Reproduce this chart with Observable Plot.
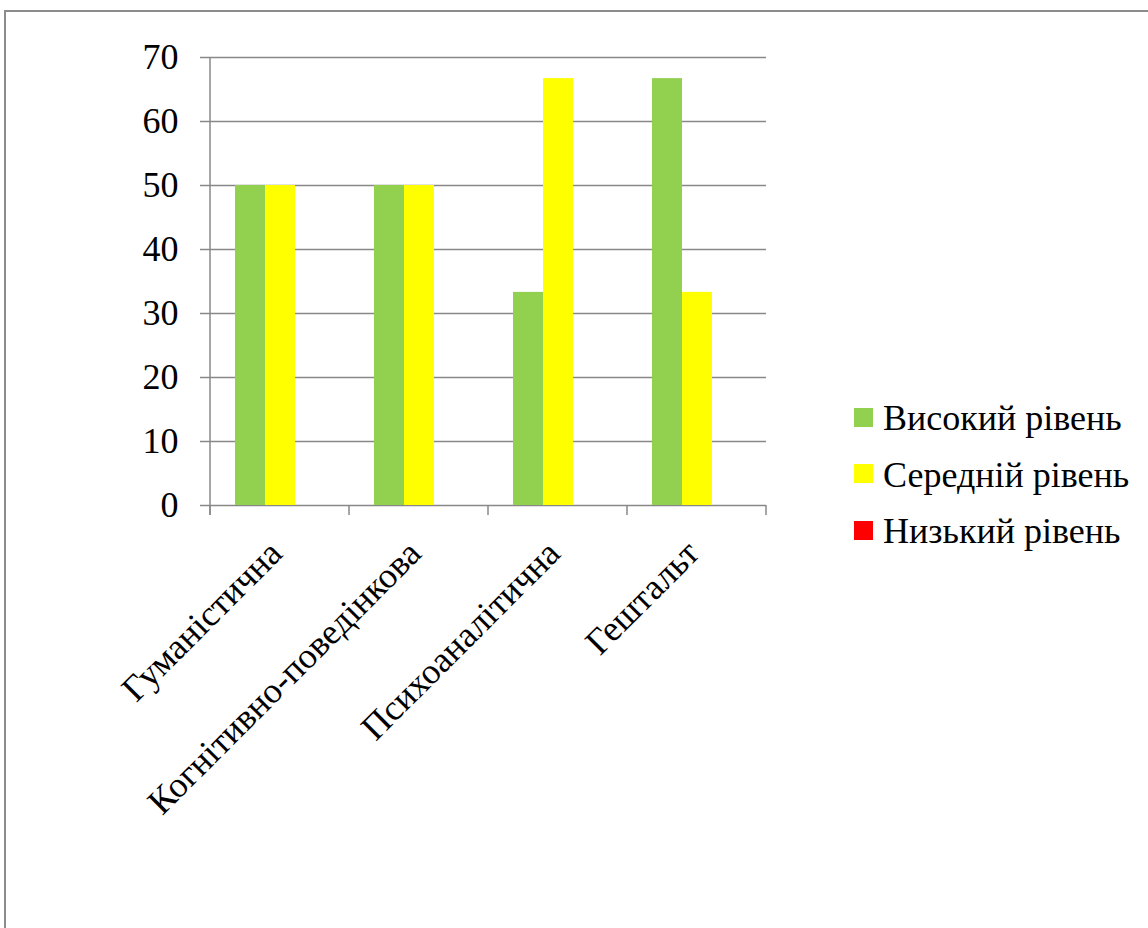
<!DOCTYPE html>
<html>
<head>
<meta charset="utf-8">
<script src="https://cdn.jsdelivr.net/npm/d3@7"></script>
<script src="https://cdn.jsdelivr.net/npm/@observablehq/plot@0.6"></script>
<style>
  html, body { margin: 0; padding: 0; background: #fff; overflow: hidden; width: 1148px; height: 928px; }
  #frame { position: absolute; left: 4px; top: 10px; width: 1400px; height: 1200px; border: 2px solid #8c8c8c; box-sizing: border-box; }
  #chart { position: absolute; left: 0; top: 0; }
  #legend { position: absolute; left: 854px; top: 390px; font-family: "Liberation Serif", "Times New Roman", serif; font-size: 36px; color: #000; white-space: nowrap; }
  .item { display: flex; align-items: center; height: 56.5px; }
  .sw { width: 19px; height: 19px; margin-right: 10px; margin-top: -2px; }
</style>
</head>
<body>
<div id="frame"></div>
<div id="chart"></div>
<div id="legend"></div>
<script>
const categories = ["Гуманістична", "Когнітивно-поведінкова", "Психоаналітична", "Гештальт"];
const seriesNames = ["Високий рівень", "Середній рівень", "Низький рівень"];
const seriesColors = ["#92D050", "#FFFF00", "#FF0000"];
const highValues = [50, 50, 33.3, 66.7];
const mediumValues = [50, 50, 66.7, 33.3];
const lowValues = [0, 0, 0, 0];
const yTicks = [0, 10, 20, 30, 40, 50, 60, 70];

const valuesBySeries = [highValues, mediumValues, lowValues];
const data = [];
categories.forEach((c, i) => {
  seriesNames.forEach((s, j) => data.push({cat: c, series: s, value: valuesBySeries[j][i]}));
});

const font = '"Liberation Serif", "Times New Roman", serif';
const W = 1148, H = 928;
const mL = 209, mR = 381, mT = 57, mB = 423;

const plot = Plot.plot({
  width: W,
  height: H,
  marginLeft: mL,
  marginRight: mR,
  marginTop: mT,
  marginBottom: mB,
  style: {fontFamily: font, background: "transparent", overflow: "visible"},
  fx: {domain: categories, paddingInner: 0, paddingOuter: 0, label: null},
  x: {domain: seriesNames, paddingInner: 0, paddingOuter: 0.75, axis: null},
  y: {domain: [0, 70], label: null},
  color: {domain: seriesNames, range: seriesColors},
  marks: [
    Plot.gridY(yTicks, {stroke: "#888", strokeOpacity: 1, strokeWidth: 1.5}),
    Plot.barY(data, {fx: "cat", x: "series", y: "value", fill: "series", inset: 0}),
    Plot.axisY(yTicks, {tickSize: 10, tickPadding: 22, fontSize: 36, stroke: "#888", strokeWidth: 1.5, fill: "#000", label: null}),
    Plot.axisFx({anchor: "bottom", tickSize: 0, tickRotate: -45, textAnchor: "end", fontSize: 36, fill: "#000", dx: -4, dy: 30, label: null})
  ]
});
document.getElementById("chart").appendChild(plot);

// axis line and category boundary ticks
const ys = plot.scale("y");
const fxs = plot.scale("fx");
const y0 = ys.apply(0), yTop = ys.apply(70);
const bounds = categories.map(c => fxs.apply(c));
bounds.push(fxs.apply(categories[categories.length - 1]) + fxs.bandwidth);
const svg = d3.select(plot.tagName.toLowerCase() === "svg" ? plot : plot.querySelector("svg"));
const g = svg.append("g").attr("stroke", "#888").attr("stroke-width", 1.5);
g.append("line").attr("x1", bounds[0]).attr("x2", bounds[0]).attr("y1", yTop).attr("y2", y0 + 10);
bounds.forEach(b => g.append("line").attr("x1", b).attr("x2", b).attr("y1", y0).attr("y2", y0 + 10));

// legend
const legend = d3.select("#legend");
seriesNames.forEach((s, i) => {
  const item = legend.append("div").attr("class", "item");
  item.append("div").attr("class", "sw").style("background", seriesColors[i]);
  item.append("span").text(s);
});
</script>
</body>
</html>
